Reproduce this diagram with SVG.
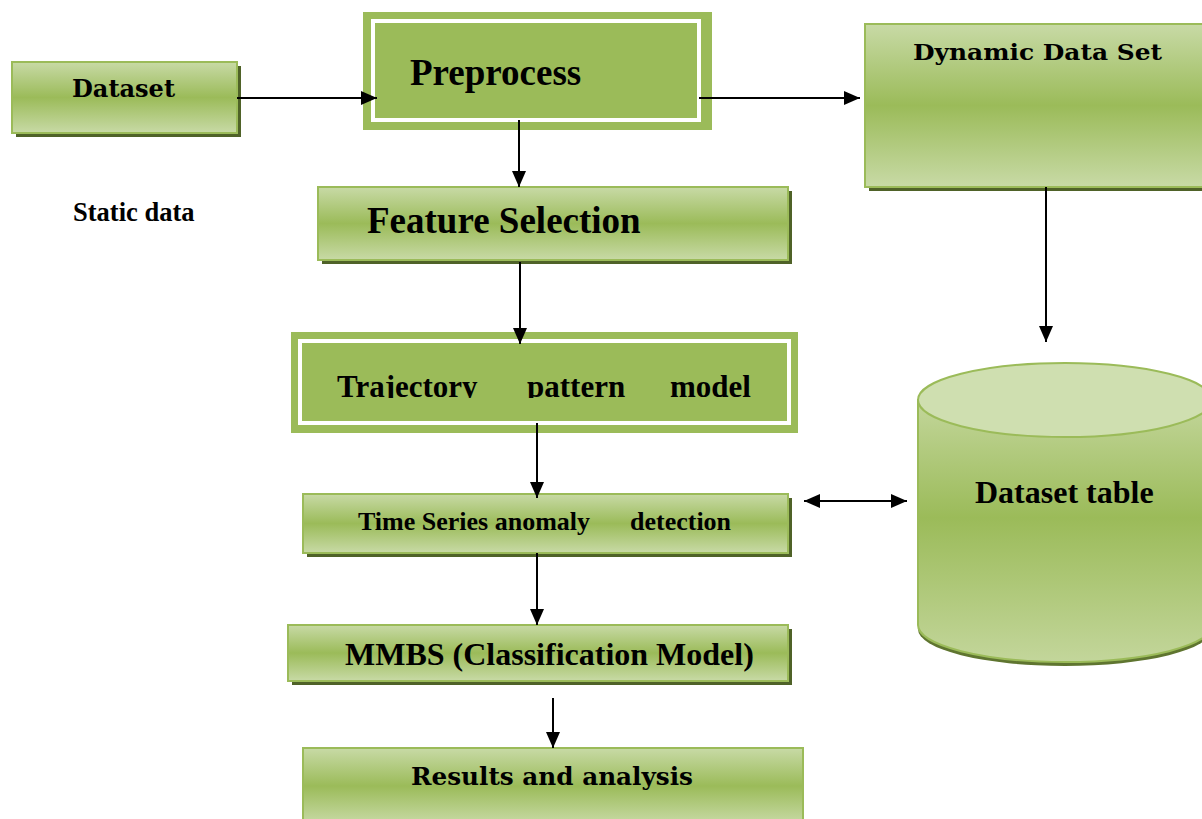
<svg xmlns="http://www.w3.org/2000/svg" width="1202" height="819" viewBox="0 0 1202 819">
  <style>
    .box { stroke: #9bbb59; stroke-width: 2; fill: url(#boxGrad); }
    .shadow { fill: #4f6228; }
    .plain { fill: #9bbb59; }
    .inner { fill: #9bbb59; stroke: #ffffff; stroke-width: 4; }
    .tnr { font-family: "Liberation Serif", "Times New Roman", serif; font-weight: bold; fill: #000; }
    .wide { font-family: "DejaVu Serif", "Liberation Serif", serif; font-weight: bold; fill: #000; }
    .conn { stroke: #000; stroke-width: 2; fill: none; }
  </style>
  <defs>
    <linearGradient id="boxGrad" x1="0" y1="0" x2="0" y2="1">
      <stop offset="0" stop-color="#c8daa6"/>
      <stop offset="0.5" stop-color="#9bbb59"/>
      <stop offset="1" stop-color="#c8daa6"/>
    </linearGradient>
    <linearGradient id="cylGrad" x1="0" y1="0" x2="0" y2="1">
      <stop offset="0" stop-color="#c3d69b"/>
      <stop offset="0.45" stop-color="#9bbb59"/>
      <stop offset="1" stop-color="#c3d69b"/>
    </linearGradient>
    <marker id="arrow" viewBox="0 0 16 14" refX="16" refY="7" markerWidth="16" markerHeight="14" markerUnits="userSpaceOnUse" orient="auto-start-reverse">
      <path d="M0,0 L16,7 L0,14 z" fill="#000"/>
    </marker>
    <clipPath id="trajClip">
      <rect x="300" y="341" width="489" height="57"/>
    </clipPath>
  </defs>

  <!-- Dataset -->
  <g id="dataset">
    <rect class="shadow" x="16" y="66" width="225" height="71"/>
    <rect class="box" x="12" y="62" width="225" height="71"/>
    <text class="wide" x="72" y="97" font-size="24" textLength="103" lengthAdjust="spacingAndGlyphs">Dataset</text>
  </g>

  <!-- Static data label -->
  <g id="static-data">
    <text class="tnr" x="73" y="221" font-size="26.5">Static data</text>
  </g>

  <!-- Preprocess -->
  <g id="preprocess">
    <rect class="plain" x="363" y="12" width="349" height="118"/>
    <rect class="inner" x="373" y="21" width="326" height="99"/>
    <text class="tnr" x="410" y="85" font-size="37">Preprocess</text>
  </g>

  <!-- Dynamic Data Set -->
  <g id="dynamic-data-set">
    <rect class="shadow" x="869" y="28" width="350" height="163"/>
    <rect class="box" x="865" y="24" width="350" height="163"/>
    <text class="wide" x="913" y="60" font-size="23" textLength="249" lengthAdjust="spacingAndGlyphs">Dynamic Data Set</text>
  </g>

  <!-- Feature Selection -->
  <g id="feature-selection">
    <rect class="shadow" x="322" y="191" width="470" height="73"/>
    <rect class="box" x="318" y="187" width="470" height="73"/>
    <text class="tnr" x="367" y="233" font-size="37">Feature Selection</text>
  </g>

  <!-- Trajectory pattern model -->
  <g id="trajectory-pattern-model">
    <rect class="plain" x="291" y="332" width="507" height="101"/>
    <rect class="inner" x="300" y="341" width="489" height="82"/>
    <g clip-path="url(#trajClip)">
      <text class="tnr" y="397" font-size="31"><tspan x="337">Trajectory</tspan><tspan x="527">pattern</tspan><tspan x="670">model</tspan></text>
    </g>
  </g>

  <!-- Time Series anomaly detection -->
  <g id="time-series-anomaly-detection">
    <rect class="shadow" x="307" y="498" width="485" height="59"/>
    <rect class="box" x="303" y="494" width="485" height="59"/>
    <text class="tnr" y="530" font-size="26"><tspan x="358">Time Series anomaly</tspan><tspan x="630">detection</tspan></text>
  </g>

  <!-- Dataset table (cylinder) -->
  <g id="dataset-table">
    <ellipse cx="1065" cy="629" rx="147" ry="37" fill="#5f7530"/>
    <path d="M918,400 L918,625 A147,37 0 0 0 1212,625 L1212,400 z" fill="url(#cylGrad)" stroke="#9bbb59" stroke-width="2"/>
    <ellipse cx="1065" cy="400" rx="147" ry="37" fill="#cfdfb0" stroke="#9bbb59" stroke-width="2"/>
    <text class="tnr" x="975" y="503" font-size="32">Dataset table</text>
  </g>

  <!-- MMBS (Classification Model) -->
  <g id="mmbs-classification-model">
    <rect class="shadow" x="292" y="629" width="500" height="56"/>
    <rect class="box" x="288" y="625" width="500" height="56"/>
    <text class="tnr" x="345" y="665" font-size="32">MMBS (Classification Model)</text>
  </g>

  <!-- Results and analysis -->
  <g id="results-and-analysis">
    <rect class="box" x="303" y="748" width="500" height="76"/>
    <text class="wide" x="411" y="785" font-size="25" textLength="282" lengthAdjust="spacingAndGlyphs">Results and analysis</text>
  </g>

  <!-- Connectors -->
  <g id="connectors">
    <path class="conn" d="M237,98 H377" marker-end="url(#arrow)"/>
    <path class="conn" d="M699,98 H860" marker-end="url(#arrow)"/>
    <path class="conn" d="M519,120 V187" marker-end="url(#arrow)"/>
    <path class="conn" d="M520,262 V344" marker-end="url(#arrow)"/>
    <path class="conn" d="M537,423 V498" marker-end="url(#arrow)"/>
    <path class="conn" d="M537,553 V625" marker-end="url(#arrow)"/>
    <path class="conn" d="M553,698 V748" marker-end="url(#arrow)"/>
    <path class="conn" d="M1046,187 V342" marker-end="url(#arrow)"/>
    <path class="conn" d="M804,501 H907" marker-start="url(#arrow)" marker-end="url(#arrow)"/>
  </g>
</svg>
